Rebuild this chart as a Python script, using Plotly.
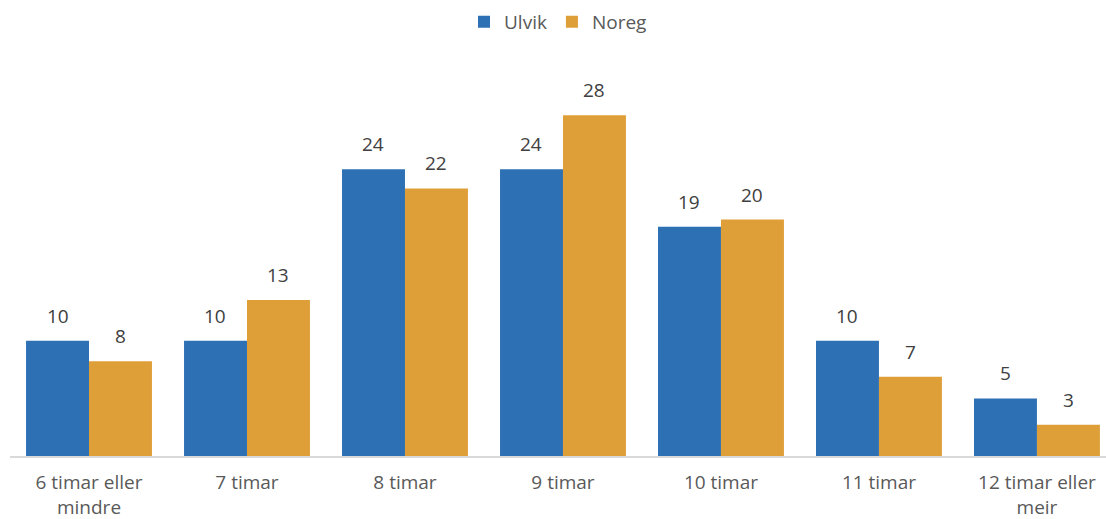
import plotly.graph_objects as go

categories = ["6 timar eller<br>mindre", "7 timar", "8 timar", "9 timar", "10 timar", "11 timar", "12 timar eller<br>meir"]
ulvik = [9.6, 9.6, 23.9, 23.9, 19.1, 9.6, 4.8]
noreg = [7.9, 13.0, 22.3, 28.4, 19.7, 6.6, 2.6]
series_names = ["Ulvik", "Noreg"]

BLUE = "#2E70B4"
ORANGE = "#DF9F38"
TXT = "#404040"
FONT = "Open Sans"

fig = go.Figure()
fig.add_trace(go.Bar(x=categories, y=ulvik, name=series_names[0], marker=dict(color=BLUE, line=dict(width=0))))
fig.add_trace(go.Bar(x=categories, y=noreg, name=series_names[1], marker=dict(color=ORANGE, line=dict(width=0))))

annotations = []
for vals, shift in ((ulvik, -31.5), (noreg, 31.5)):
    for c, v in zip(categories, vals):
        annotations.append(dict(x=c, y=v, text=f"{v:.0f}", showarrow=False, xshift=shift,
                                yanchor="bottom", yshift=10,
                                font=dict(family=FONT, size=19, color=TXT)))

fig.update_layout(
    width=1106, height=519,
    margin=dict(l=10, r=0, t=60, b=63),
    paper_bgcolor="white", plot_bgcolor="white",
    barmode="group", bargap=0.203, bargroupgap=0,
    font=dict(family=FONT, size=19, color="#595959"),
    legend=dict(orientation="h", x=0.5, xanchor="center", yref="container", y=0.958, yanchor="middle",
                font=dict(family=FONT, size=19, color="#595959"), itemwidth=30, traceorder="normal"),
    annotations=annotations,
    xaxis=dict(range=[-0.5, 6.437], showgrid=False, showline=True, linecolor="#D9D9D9", linewidth=2,
               ticks="", tickfont=dict(family=FONT, size=19, color="#595959"), ticklabelstandoff=8,
               automargin=False),
    yaxis=dict(range=[0, 33], showgrid=False, showticklabels=False, zeroline=False, showline=False),
)

fig.write_html("out.html", config={"displayModeBar": False},
               post_script="document.body.style.margin='0';document.body.style.overflow='hidden';")
